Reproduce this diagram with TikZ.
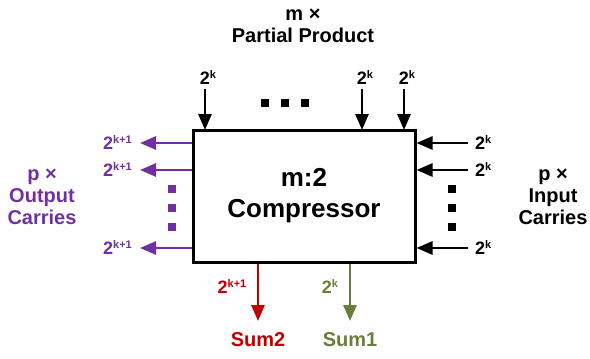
\documentclass[tikz,border=0pt]{standalone}
\usepackage{fontspec}
\setmainfont{Liberation Sans}
\usetikzlibrary{arrows.meta}
\definecolor{cpurple}{HTML}{7030A0}
\definecolor{cred}{HTML}{C00000}
\definecolor{cgreen}{HTML}{66803A}
\newcommand{\pw}[1]{2\raisebox{6pt}{\fontsize{11}{11}\selectfont #1}}
\begin{document}
\begin{tikzpicture}[x=1pt,y=-1pt,
  arr/.style={line width=2.8pt,-{Triangle[length=16pt,width=13pt]}},
  lbl/.style={font=\fontsize{20}{22}\selectfont\bfseries,align=center,inner sep=0pt},
  pw/.style={font=\fontsize{18}{18}\selectfont\bfseries,inner sep=0pt},
  dot/.style={fill,minimum size=8pt,inner sep=0pt}]
\useasboundingbox (0,0) rectangle (590,359);
\node[draw,line width=3pt,minimum width=222pt,minimum height=132pt,inner sep=0pt,
  font=\fontsize{26}{31}\selectfont\bfseries,align=center] (box) at (304,196) {m:2\\Compressor};
% top inputs
\node[lbl] (mpp) at (303,26) {m ×\\Partial Product};
\foreach \x/\n in {205/t1,362/t2,404/t3}{
  \coordinate (\n s) at (\x,89);
  \draw[arr] (\n s) -- (\x,130) coordinate (\n e);
  \node[pw,anchor=south] (\n l) at (\x+3,85) {\pw{k}};
}
\foreach \x/\n in {265/d1,285/d2,305/d3} \node[dot] (\n) at (\x,103) {};
% right inputs
\foreach \y/\n in {143/r1,170/r2,248/r3}{
  \coordinate (\n s) at (468,\y);
  \draw[arr] (\n s) -- (box.east |- \n s);
  \node[pw,anchor=west] (\n l) at (475,\y) {\pw{k}};
}
\foreach \y/\n in {189/e1,208/e2,227/e3} \node[dot] (\n) at (452,\y) {};
\node[lbl] (pin) at (553,197) {p ×\\Input\\Carries};
% left outputs
\begin{scope}[cpurple]
\foreach \y/\n in {143/l1,170/l2,248/l3}{
  \coordinate (\n e) at (140,\y);
  \draw[arr] (box.west |- \n e) -- (\n e);
  \node[pw,anchor=east] (\n l) at (132,\y) {\pw{k+1}};
}
\foreach \y/\n in {189/f1,208/f2,227/f3} \node[dot] (\n) at (172,\y) {};
\node[lbl,text=cpurple] (pout) at (42,197) {p ×\\Output\\Carries};
\end{scope}
% bottom outputs
\coordinate (s2) at (258,321);
\draw[arr,cred] (box.south -| s2) -- (s2);
\node[pw,text=cred] (s2l) at (232,287) {\pw{k+1}};
\node[lbl,text=cred] (sum2) at (258,340) {Sum2};
\coordinate (s1) at (350,321);
\draw[arr,cgreen] (box.south -| s1) -- (s1);
\node[pw,text=cgreen] (s1l) at (330,287) {\pw{k}};
\node[lbl,text=cgreen] (sum1) at (350,340) {Sum1};
\end{tikzpicture}
\end{document}
